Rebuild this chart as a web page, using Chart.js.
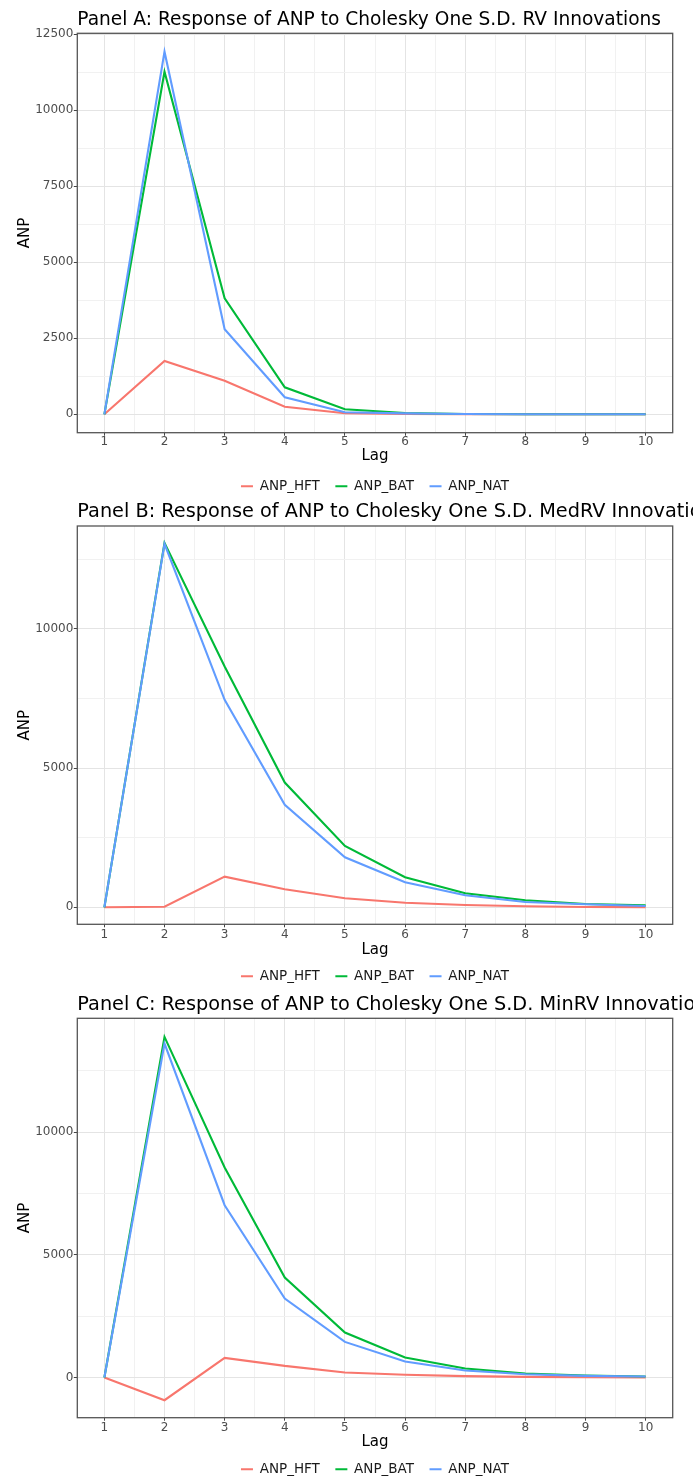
<!DOCTYPE html>
<html>
<head>
<meta charset="utf-8">
<script src="https://cdn.jsdelivr.net/npm/chart.js@4.4.1/dist/chart.umd.min.js"></script>
<style>
  html, body { margin: 0; padding: 0; background: #ffffff; }
  #wrap { position: relative; width: 693px; height: 1476px; overflow: hidden; background: #ffffff; }
  canvas { position: absolute; left: 0; }
</style>
</head>
<body>
<div id="wrap">
  <canvas id="panelA" width="693" height="503" style="top:0px"></canvas>
  <canvas id="panelB" width="693" height="498" style="top:495px"></canvas>
  <canvas id="panelC" width="693" height="496" style="top:990px"></canvas>
</div>
<script>
// ---------- data ----------
const lags = [1, 2, 3, 4, 5, 6, 7, 8, 9, 10];
const lagMinor = [1.5, 2.5, 3.5, 4.5, 5.5, 6.5, 7.5, 8.5, 9.5];
const seriesNames = ['ANP_HFT', 'ANP_BAT', 'ANP_NAT'];

const titleA = 'Panel A: Response of ANP to Cholesky One S.D. RV Innovations';
const titleB = 'Panel B: Response of ANP to Cholesky One S.D. MedRV Innovations';
const titleC = 'Panel C: Response of ANP to Cholesky One S.D. MinRV Innovations';

// Panel A (RV)
const hftA = [0, 1753, 1105, 250, 35, 8, 3, 1, 0, 0];
const batA = [0, 11270, 3816, 888, 165, 45, 10, 3, 1, 0];
const natA = [0, 11928, 2796, 559, 68, 30, 8, 3, 1, 0];

// Panel B (MedRV)
const hftB = [0, 22, 1101, 647, 324, 165, 83, 36, 12, 5];
const batB = [0, 13094, 8655, 4482, 2205, 1079, 504, 252, 119, 72];
const natB = [0, 13060, 7457, 3680, 1798, 899, 432, 191, 108, 47];

// Panel C (MinRV)
const hftC = [0, -926, 800, 473, 204, 110, 57, 27, 12, 5];
const batC = [0, 13890, 8564, 4078, 1835, 816, 367, 163, 82, 41];
const natC = [0, 13620, 7027, 3222, 1452, 653, 285, 136, 68, 41];

// tick labels
const yMajorA = [0, 2500, 5000, 7500, 10000, 12500];
const yMinorA = [1250, 3750, 6250, 8750, 11250];
const yMajorBC = [0, 5000, 10000];
const yMinorBC = [2500, 7500, 12500];

// ---------- styling / layout ----------
Chart.defaults.font.family = "'DejaVu Sans', 'Liberation Sans', sans-serif";
const lineColors = ['#F8766D', '#00BA38', '#619CFF'];

const framePlugin = {
  id: 'frame',
  afterDatasetsDraw(chart) {
    const a = chart.chartArea, ctx = chart.ctx;
    ctx.save();
    ctx.strokeStyle = '#555555';
    ctx.lineWidth = 1.3;
    ctx.strokeRect(a.left, a.top, a.right - a.left, a.bottom - a.top);
    ctx.restore();
  }
};
// let the title run past the panel edge (clipped by the page, as in the original)
const titleReach = {
  id: 'titleReach',
  afterLayout(chart) {
    const t = chart.titleBlock;
    if (t) { t.right = t.left + 1200; t.width = 1200; }
  }
};

function makePanel(id, title, series, yMin, yMax, yMajor, yMinor, L) {
  const datasets = series.map((vals, i) => ({
    label: seriesNames[i],
    data: lags.map((lag, k) => ({ x: lag, y: vals[k] })),
    borderColor: lineColors[i],
    backgroundColor: lineColors[i],
    borderWidth: 2.1,
    pointRadius: 0,
    pointHoverRadius: 0,
    tension: 0,
    order: 2 - i
  }));
  const yAll = yMajor.concat(yMinor).sort((a, b) => a - b);
  const xAll = lags.concat(lagMinor).sort((a, b) => a - b);
  return new Chart(document.getElementById(id), {
    type: 'line',
    data: { datasets },
    options: {
      responsive: false,
      animation: false,
      devicePixelRatio: 1,
      layout: { padding: { left: 0, right: 693 - L.right, top: 0, bottom: 0 } },
      plugins: {
        title: {
          display: true, text: title, align: 'start', fullSize: false, color: '#000000',
          font: { size: L.titleSize, weight: 'normal', lineHeight: 1 },
          padding: { top: L.titleTop, bottom: L.titleBottom }
        },
        legend: {
          position: 'bottom', fullSize: false,
          labels: {
            boxWidth: 12, boxHeight: 2, padding: 15.5, color: '#1a1a1a',
            font: { size: 13.5 },
            sort: (a, b) => a.datasetIndex - b.datasetIndex,
            generateLabels: (ch) => Chart.defaults.plugins.legend.labels.generateLabels(ch)
              .map(it => Object.assign(it, { lineWidth: 0 }))
          }
        },
        tooltip: { enabled: false }
      },
      scales: {
        x: {
          type: 'linear', min: 0.55, max: 10.45,
          afterBuildTicks: (s) => { s.ticks = xAll.map(v => ({ value: v })); },
          afterFit: (s) => { s.height = L.xHeight; },
          ticks: {
            autoSkip: false, maxRotation: 0, minRotation: 0,
            padding: L.xTickPad, color: '#4d4d4d',
            font: { size: 12, lineHeight: 1.1 },
            callback: (v) => (lags.includes(v) ? String(v) : '')
          },
          grid: {
            color: (c) => (c.tick && lags.includes(c.tick.value) ? '#e4e4e4' : '#f1f1f1'),
            lineWidth: 1,
            tickLength: 3,
            tickColor: (c) => (c.tick && lags.includes(c.tick.value) ? '#444444' : 'rgba(0,0,0,0)')
          },
          border: { display: false },
          title: {
            display: true, text: 'Lag', color: '#000000',
            font: { size: 15, lineHeight: 1.2 },
            padding: { top: 0, bottom: L.lagPad }
          }
        },
        y: {
          type: 'linear', min: yMin, max: yMax,
          afterBuildTicks: (s) => { s.ticks = yAll.map(v => ({ value: v })); },
          afterFit: (s) => { s.width = L.left; },
          ticks: {
            autoSkip: false, padding: 0.5, color: '#4d4d4d',
            font: { size: 12 },
            callback: (v) => (yMajor.includes(v) ? String(v) : '')
          },
          grid: {
            color: (c) => (c.tick && yMajor.includes(c.tick.value) ? '#e4e4e4' : '#f1f1f1'),
            lineWidth: 1,
            tickLength: 3.5,
            tickColor: (c) => (c.tick && yMajor.includes(c.tick.value) ? '#444444' : 'rgba(0,0,0,0)')
          },
          border: { display: false },
          title: {
            display: true, text: 'ANP', color: '#000000',
            font: { size: 15, lineHeight: 1.2 },
            padding: { top: 16.5, bottom: 0 }
          }
        }
      }
    },
    plugins: [framePlugin, titleReach]
  });
}

makePanel('panelA', titleA, [hftA, batA, natA], -605, 12533, yMajorA, yMinorA,
  { left: 77.3, right: 672.7, titleSize: 18.6, titleTop: 10.7, titleBottom: 4.0, xHeight: 31.3, xTickPad: 0, lagPad: -1.5 });
makePanel('panelB', titleB, [hftB, batB, natB], -611, 13701, yMajorBC, yMinorBC,
  { left: 77.3, right: 672.7, titleSize: 19.3, titleTop: 7.05, titleBottom: 4.65, xHeight: 29.7, xTickPad: 1, lagPad: -5 });
makePanel('panelC', titleC, [hftC, batC, natC], -1639, 14649, yMajorBC, yMinorBC,
  { left: 77.3, right: 672.7, titleSize: 19.3, titleTop: 4.85, titleBottom: 4.15, xHeight: 29.3, xTickPad: 1, lagPad: -4 });
</script>
</body>
</html>
